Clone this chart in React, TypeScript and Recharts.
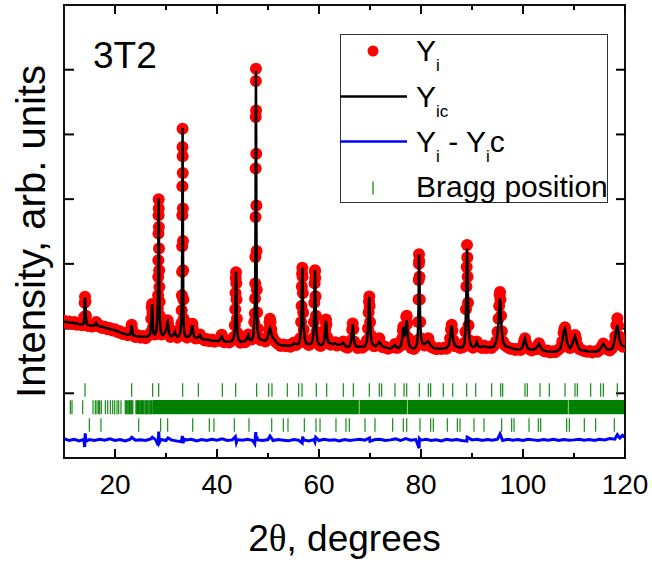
import React from 'react'
import { ComposedChart, Scatter, Line, XAxis, YAxis, ReferenceArea } from 'recharts'

const FONT = '"Liberation Sans", Arial, sans-serif'

// [2θ, Yi (observed), Yic (calculated)]
const observed: [number, number, number][] = [
  [10.0, 2120, 2104], [10.5, 2085, 2100], [11.0, 2110, 2095], [11.5, 2075, 2090], [12.0, 2100, 2085],
  [12.5, 2060, 2078], [13.0, 2085, 2068], [13.5, 2050, 2064], [13.8, 2080, 2070], [13.95, 2180, 2150],
  [14.05, 2400, 2380], [14.12, 2490, 2480], [14.2, 2420, 2400], [14.3, 2200, 2180], [14.45, 2070, 2075],
  [14.7, 2040, 2058], [15.0, 2065, 2050], [15.5, 2030, 2045], [16.0, 2055, 2050], [16.3, 2100, 2088],
  [16.6, 2035, 2045], [17.0, 2050, 2035], [17.5, 2010, 2028], [18.0, 2030, 2015], [18.5, 1990, 2005],
  [19.0, 2010, 1993], [19.5, 1970, 1982], [20.0, 1990, 1972], [20.5, 1945, 1958], [21.0, 1960, 1942],
  [21.5, 1915, 1927], [22.0, 1930, 1915], [22.5, 1895, 1905], [23.0, 1925, 1910], [23.2, 2010, 2000],
  [23.27, 2060, 2053], [23.35, 1990, 1990], [23.6, 1895, 1895], [24.0, 1870, 1887], [24.5, 1895, 1880],
  [25.0, 1860, 1877], [25.5, 1885, 1874], [26.0, 1850, 1872], [26.5, 1890, 1880], [26.9, 1930, 1920],
  [27.1, 2150, 2120], [27.2, 2330, 2300], [27.27, 2380, 2377], [27.35, 2250, 2230], [27.45, 2020, 2000],
  [27.6, 1930, 1920], [27.85, 1910, 1909], [28.1, 1990, 1960], [28.3, 2180, 2150], [28.4, 2311, 2400],
  [28.45, 2516, 2640], [28.48, 2798, 2900], [28.5, 3056, 3200], [28.52, 3468, 3500], [28.54, 3751, 3800],
  [28.56, 3998, 4010], [28.58, 3854, 3900], [28.6, 3570, 3600], [28.63, 3237, 3250], [28.66, 2902, 2900],
  [28.7, 2644, 2600], [28.75, 2413, 2350], [28.8, 2200, 2150], [28.9, 2020, 2000], [29.1, 1910, 1920],
  [29.4, 1920, 1900], [29.8, 1950, 1940], [30.1, 2020, 2010], [30.25, 2110, 2090], [30.33, 2130, 2104],
  [30.42, 2060, 2050], [30.6, 1950, 1930], [30.9, 1870, 1885], [31.2, 1895, 1883], [31.6, 1930, 1920],
  [31.76, 1960, 1949], [31.9, 1900, 1910], [32.2, 1860, 1872], [32.5, 1890, 1880], [32.8, 1930, 1940],
  [33.0, 2079, 2100], [33.08, 2284, 2300], [33.12, 2516, 2550], [33.15, 2876, 2900], [33.17, 3272, 3300],
  [33.19, 3751, 3700], [33.21, 4199, 4200], [33.23, 4805, 4750], [33.25, 5089, 5100], [33.27, 4662, 4700],
  [33.29, 4404, 4300], [33.31, 3855, 3800], [33.33, 3354, 3350], [33.36, 2900, 2850], [33.4, 2450, 2400],
  [33.46, 2150, 2120], [33.55, 1980, 1960], [33.8, 1890, 1880], [34.1, 1860, 1872], [34.5, 1890, 1880],
  [34.8, 1920, 1910], [35.0, 1990, 1990], [35.1, 2070, 2040], [35.17, 2075, 2053], [35.25, 2000, 1990],
  [35.5, 1880, 1880], [35.8, 1845, 1860], [36.1, 1870, 1857], [36.5, 1900, 1880], [36.67, 1910, 1898],
  [36.85, 1850, 1860], [37.2, 1845, 1835], [37.6, 1815, 1832], [38.0, 1840, 1828], [38.5, 1805, 1822],
  [39.0, 1830, 1815], [39.5, 1795, 1810], [40.0, 1820, 1808], [40.5, 1810, 1815], [40.8, 1870, 1860],
  [40.92, 1905, 1898], [41.05, 1850, 1850], [41.4, 1790, 1805], [41.9, 1815, 1798], [42.4, 1785, 1795],
  [42.9, 1820, 1805], [43.3, 1870, 1860], [43.5, 2050, 2000], [43.58, 2300, 2250], [43.63, 2550, 2500],
  [43.68, 2780, 2750], [43.73, 2870, 2876], [43.78, 2700, 2720], [43.83, 2450, 2450], [43.9, 2150, 2150],
  [44.0, 1930, 1950], [44.2, 1830, 1840], [44.6, 1780, 1795], [45.0, 1810, 1798], [45.5, 1790, 1805],
  [45.9, 1840, 1850], [46.14, 1910, 1898], [46.35, 1840, 1835], [46.8, 1830, 1821], [47.1, 1900, 1880],
  [47.3, 2100, 2080], [47.42, 2233, 2350], [47.47, 2465, 2600], [47.5, 2697, 2900], [47.53, 3107, 3300],
  [47.56, 3725, 3900], [47.58, 4472, 4500], [47.6, 5268, 5200], [47.62, 5824, 5700], [47.64, 6015, 5980],
  [47.66, 5371, 5500], [47.69, 4700, 4600], [47.72, 3900, 3800], [47.76, 3200, 3100], [47.8, 2600, 2500],
  [47.86, 2250, 2200], [47.95, 2000, 1990], [48.2, 1870, 1860], [48.6, 1820, 1830], [49.0, 1835, 1821],
  [49.5, 1800, 1812], [49.9, 1850, 1850], [50.15, 1990, 1950], [50.3, 2100, 1990], [50.39, 2150, 2007],
  [50.5, 2100, 1980], [50.65, 1990, 1930], [50.85, 1880, 1870], [51.1, 1835, 1848], [51.6, 1790, 1790],
  [52.0, 1760, 1760], [52.5, 1730, 1744], [53.0, 1755, 1740], [53.5, 1725, 1740], [54.0, 1745, 1735],
  [54.4, 1720, 1733], [54.8, 1760, 1750], [55.1, 1785, 1770], [55.5, 1745, 1760], [56.0, 1775, 1760],
  [56.3, 1850, 1840], [56.5, 2100, 2050], [56.58, 2350, 2300], [56.64, 2650, 2600], [56.69, 2850, 2850],
  [56.73, 2940, 2943], [56.78, 2800, 2800], [56.83, 2550, 2550], [56.9, 2250, 2250], [57.0, 1980, 2000],
  [57.2, 1830, 1840], [57.5, 1775, 1770], [58.0, 1745, 1760], [58.5, 1775, 1765], [58.8, 1850, 1830],
  [59.0, 2100, 2050], [59.08, 2400, 2350], [59.14, 2700, 2650], [59.19, 2880, 2860], [59.22, 2900, 2902],
  [59.27, 2780, 2780], [59.32, 2500, 2520], [59.4, 2200, 2200], [59.5, 1950, 1970], [59.7, 1800, 1810],
  [60.0, 1750, 1755], [60.3, 1730, 1744], [60.7, 1760, 1755], [61.0, 1820, 1800], [61.2, 1980, 1960],
  [61.3, 2110, 2090], [61.37, 2140, 2119], [61.45, 2060, 2040], [61.6, 1870, 1870], [61.9, 1775, 1780],
  [62.3, 1750, 1770], [62.7, 1775, 1760], [63.14, 1790, 1775], [63.5, 1740, 1755], [64.0, 1760, 1750],
  [64.4, 1755, 1760], [64.76, 1800, 1780], [65.1, 1720, 1735], [65.6, 1705, 1718], [66.0, 1740, 1730],
  [66.3, 1820, 1810], [66.5, 1980, 1980], [66.61, 2080, 2068], [66.72, 1990, 1980], [66.9, 1800, 1800],
  [67.2, 1730, 1730], [67.6, 1700, 1718], [68.0, 1730, 1720], [68.5, 1705, 1720], [69.0, 1735, 1725],
  [69.4, 1820, 1800], [69.6, 2000, 1990], [69.72, 2250, 2250], [69.8, 2420, 2420], [69.86, 2495, 2490],
  [69.93, 2350, 2350], [70.02, 2100, 2100], [70.15, 1900, 1900], [70.4, 1770, 1770], [70.8, 1725, 1735],
  [71.1, 1740, 1729], [71.5, 1760, 1760], [71.82, 1850, 1790], [72.1, 1760, 1760], [72.5, 1710, 1725],
  [73.0, 1720, 1710], [73.5, 1690, 1700], [74.0, 1705, 1693], [74.5, 1720, 1715], [74.9, 1760, 1744],
  [75.3, 1700, 1710], [75.7, 1720, 1700], [76.0, 1740, 1730], [76.3, 1850, 1830], [76.45, 1970, 1980],
  [76.53, 2030, 2027], [76.65, 1950, 1940], [76.8, 1920, 1880], [77.0, 2050, 1980], [77.12, 2180, 2100],
  [77.2, 2200, 2130], [77.3, 2080, 2030], [77.45, 1860, 1860], [77.7, 1740, 1740], [78.1, 1700, 1705],
  [78.6, 1685, 1693], [79.0, 1720, 1715], [79.3, 1820, 1800], [79.45, 2100, 2050], [79.52, 2450, 2400],
  [79.56, 2750, 2700], [79.59, 3000, 2950], [79.61, 3150, 3149], [79.65, 3050, 3050], [79.7, 2800, 2800],
  [79.76, 2450, 2450], [79.85, 2100, 2100], [80.0, 1850, 1870], [80.3, 1760, 1770], [80.7, 1740, 1760],
  [81.1, 1800, 1790], [81.43, 1850, 1800], [81.75, 1760, 1760], [82.1, 1710, 1720], [82.5, 1700, 1700],
  [83.0, 1680, 1695], [83.5, 1700, 1693], [84.0, 1685, 1693], [84.5, 1705, 1695], [85.0, 1690, 1700],
  [85.4, 1730, 1740], [85.7, 1850, 1850], [85.88, 1990, 1990], [86.02, 2060, 2053], [86.15, 1970, 1960],
  [86.35, 1820, 1810], [86.7, 1725, 1735], [87.2, 1730, 1718], [87.7, 1700, 1705], [88.2, 1710, 1712],
  [88.5, 1780, 1760], [88.7, 1950, 1950], [88.82, 2300, 2300], [88.9, 2650, 2650], [88.96, 2950, 2950],
  [89.02, 3290, 3237], [89.08, 3100, 3100], [89.14, 2800, 2800], [89.22, 2400, 2400], [89.32, 2050, 2050],
  [89.5, 1820, 1830], [89.8, 1730, 1740], [90.2, 1705, 1715], [90.6, 1730, 1730], [90.92, 1800, 1795],
  [91.2, 1730, 1730], [91.6, 1725, 1715], [92.0, 1700, 1718], [92.35, 1740, 1729], [92.8, 1700, 1715],
  [93.3, 1720, 1710], [93.8, 1700, 1712], [94.3, 1735, 1720], [94.7, 1800, 1790], [95.0, 1950, 1920],
  [95.2, 2150, 2100], [95.32, 2350, 2300], [95.42, 2520, 2440], [95.49, 2567, 2465], [95.58, 2450, 2380],
  [95.7, 2200, 2150], [95.85, 1960, 1950], [96.1, 1800, 1800], [96.5, 1740, 1730], [97.0, 1710, 1718],
  [97.5, 1690, 1705], [98.0, 1690, 1690], [98.5, 1670, 1685], [99.0, 1690, 1678], [99.5, 1670, 1682],
  [99.9, 1720, 1710], [100.2, 1800, 1800], [100.39, 1850, 1848], [100.6, 1780, 1770], [100.9, 1700, 1700],
  [101.3, 1680, 1680], [101.7, 1660, 1675], [102.1, 1690, 1678], [102.5, 1680, 1690], [102.9, 1740, 1730],
  [103.14, 1775, 1760], [103.4, 1720, 1720], [103.8, 1670, 1670], [104.3, 1645, 1655], [104.8, 1660, 1645],
  [105.3, 1630, 1641], [105.8, 1650, 1641], [106.3, 1635, 1645], [106.8, 1665, 1655], [107.3, 1700, 1690],
  [107.7, 1800, 1800], [107.95, 1930, 1930], [108.1, 1990, 1980], [108.24, 2020, 2002], [108.4, 1950, 1940],
  [108.6, 1820, 1810], [108.9, 1720, 1730], [109.2, 1700, 1700], [109.5, 1720, 1730], [109.8, 1800, 1790],
  [110.0, 1860, 1850], [110.2, 1900, 1883], [110.4, 1840, 1830], [110.7, 1740, 1740], [111.1, 1680, 1680],
  [111.6, 1665, 1660], [112.1, 1650, 1656], [112.6, 1640, 1650], [113.1, 1655, 1645], [113.6, 1630, 1641],
  [114.1, 1650, 1641], [114.6, 1640, 1650], [115.0, 1670, 1670], [115.4, 1720, 1720], [115.75, 1770, 1760],
  [116.1, 1710, 1720], [116.5, 1680, 1680], [117.0, 1660, 1678], [117.5, 1700, 1690], [117.8, 1760, 1760],
  [118.1, 1880, 1880], [118.3, 2050, 1990], [118.49, 2160, 2053], [118.65, 2050, 1990], [118.85, 1880, 1860],
  [119.2, 1760, 1760], [119.6, 1720, 1730], [120.0, 1730, 1718],
]

// [2θ, Yi - Yic] as drawn (offset below the pattern)
const difference: [number, number][] = [
  [10, 300], [11, 270], [12, 290], [13, 265], [13.9, 290], [14.05, 170], [14.15, 380], [14.3, 260],
  [15, 285], [16, 270], [17, 290], [18, 275], [19, 295], [20, 270], [21, 285], [22, 265], [23, 290],
  [23.3, 320], [24, 275], [25, 280], [26, 270], [27, 295], [27.3, 320], [28, 280], [28.45, 200],
  [28.57, 410], [28.7, 240], [29, 285], [30, 270], [30.4, 310], [31, 280], [32, 265], [33, 250],
  [33.2, 340], [33.35, 230], [33.6, 290], [34, 280], [35, 290], [36, 265], [37, 285], [38, 270],
  [39, 290], [40, 275], [41, 295], [42, 270], [43, 280], [43.6, 330], [43.8, 240], [44, 285], [45, 275],
  [46, 290], [47, 270], [47.4, 220], [47.6, 400], [47.7, 260], [47.8, 330], [48, 280], [49, 270],
  [50, 285], [50.4, 340], [51, 270], [52, 285], [53, 275], [54, 265], [55, 285], [56, 275], [56.7, 230],
  [56.8, 330], [57, 280], [58, 265], [59, 285], [59.2, 250], [59.35, 320], [60, 270], [61, 290],
  [62, 275], [63, 280], [64, 265], [65, 285], [66, 270], [67, 280], [68, 290], [69, 275], [69.9, 310],
  [70, 260], [71, 285], [72, 290], [73, 270], [74, 280], [75, 295], [76, 270], [77, 300], [78, 275],
  [79, 285], [79.62, 150], [79.7, 300], [80, 275], [81, 290], [82, 270], [83, 280], [84, 265], [85, 290],
  [86, 275], [87, 285], [88, 270], [89, 260], [89.05, 320], [90, 280], [91, 290], [92, 270], [93, 285],
  [94, 275], [95, 290], [95.5, 370], [96, 270], [97, 290], [98, 275], [99, 285], [100, 270], [101, 290],
  [102, 280], [103, 270], [104, 285], [105, 275], [106, 290], [107, 270], [108, 285], [109, 275],
  [110, 280], [111, 290], [112, 275], [113, 285], [114, 270], [115, 290], [116, 280], [117, 300],
  [118, 290], [118.5, 360], [119, 310], [119.5, 350], [120, 320],
]

// Bragg reflection positions (2θ), three phases
const braggUpper = [
  14.12, 23.27, 27.39, 28.57, 33.27, 36.33, 41.04, 43.67, 47.78, 50.14, 50.78, 53.78, 56.02, 56.67,
  59.47, 61.51, 64.76, 66.73, 69.86, 71.82, 72.29, 74.9, 76.67, 77.2, 79.67, 81.43, 81.9, 84.37, 86.22,
  88.96, 90.73, 93.86, 95.63, 96.02, 100.39, 100.84, 103.33, 105.16, 108.24, 110.2, 110.65, 113.27,
  115.24, 115.75, 118.49,
]
const braggMiddle = [
  11.24, 11.57, 13.67, 15.69, 16.14, 16.47, 16.8, 17.0, 17.31, 18.1, 18.57, 19.08, 19.55, 19.94, 20.39,
  20.73, 21.18, 22.0, 22.15, 22.3, 22.5, 22.7, 22.85, 23.0, 23.2, 23.35, 23.5, 24.1, 24.25, 24.4, 24.6,
  24.75, 24.9, 25.05, 25.2, 25.4, 25.55, 25.7, 25.9, 26.05, 26.2, 26.35, 26.5, 26.7, 26.85, 27.0,
  27.15, 27.3,
]
// above ~27.4 the middle phase reflections merge into a solid band
const braggMiddleBand = [27.4, 120]
const braggBandGaps = [67.9, 77.35, 108.9]
const braggLower = [
  14.96, 17.25, 24.65, 28.96, 30.33, 35.24, 38.49, 39.41, 43.39, 46.27, 50.73, 53.0, 53.92, 57.12,
  59.41, 60.2, 63.33, 65.29, 65.94, 69.02, 70.98, 74.45, 76.53, 77.2, 79.8, 81.9, 82.41, 85.16, 87.12,
  87.65, 90.39, 92.35, 95.82, 97.78, 98.24, 101.18, 103.0, 103.47, 108.57, 109.08, 112.02, 114.25,
  117.9,
]

const xTicks = [20, 40, 60, 80, 100, 120]
const xMinorTicks = [30, 50, 70, 90, 110]
const yTicks = [1000, 2000, 3000, 4000, 5000, 6000]
const X_MIN = 10
const X_MAX = 120
const Y_MIN = 0
const Y_MAX = 7000

// vertical levels of the Bragg rows
const UPPER_LEVEL = 1050
const MIDDLE_LEVEL = 786
const LOWER_LEVEL = 510
const BAND_TOP = 896
const BAND_BOTTOM = 676

const obsRows = observed.map(([t, obs, calc]) => ({ t, obs, calc }))
const diffRows = difference.map(([t, d]) => ({ t, d }))
const upperRows = braggUpper.map((t) => ({ t, y: UPPER_LEVEL }))
const middleRows = braggMiddle.map((t) => ({ t, y: MIDDLE_LEVEL }))
const lowerRows = braggLower.map((t) => ({ t, y: LOWER_LEVEL }))
const gapRows = braggBandGaps.map((t) => ({ t, y: MIDDLE_LEVEL }))
// anchor points for the inward tick marks on the bottom / top frame
const bottomMajor = xTicks.map((t) => ({ t, y: Y_MIN }))
const bottomMinor = xMinorTicks.map((t) => ({ t, y: Y_MIN }))
const topMajor = xTicks.map((t) => ({ t, y: Y_MAX }))
const topMinor = xMinorTicks.map((t) => ({ t, y: Y_MAX }))

const RedDot = (p: any) => <circle cx={p.cx} cy={p.cy} r={6} fill="#ff0000" />
const tickMark = (color: string, half: number) => (p: any) =>
  <line x1={p.cx} x2={p.cx} y1={p.cy - half} y2={p.cy + half} stroke={color} strokeWidth={1.1} />
// frame tick: from the anchor, `len` px into the plot (negative = upward)
const frameTick = (len: number) => (p: any) =>
  <line x1={p.cx} x2={p.cx} y1={p.cy} y2={p.cy + len} stroke="#000" strokeWidth={2} />
const NoLabel = () => <g />

const XTitle = (props: any) => {
  const vb = props.viewBox
  return (
    <text x={vb.x + vb.width / 2} y={vb.y + 93} textAnchor="middle" fontSize={37} fontFamily={FONT} fill="#000">
      2<tspan fontFamily='"Liberation Serif", serif'>θ</tspan>, degrees
    </text>
  )
}

const YTitle = (props: any) => {
  const vb = props.viewBox
  const x = vb.x + 45
  const y = vb.y + vb.height / 2
  return (
    <text x={x} y={y} transform={`rotate(-90, ${x}, ${y})`} textAnchor="middle" fontSize={40} fontFamily={FONT} fill="#000">
      Intensity, arb. units
    </text>
  )
}

const frame = { stroke: '#111', strokeWidth: 2 }
const tickStroke = { stroke: '#000', strokeWidth: 2 }

const LegendBox = () => (
  <svg width={652} height={563} style={{ position: 'absolute', left: 0, top: 0, pointerEvents: 'none' }}>
    <text x={93} y={68} fontSize={37} fontFamily={FONT} fill="#000">3T2</text>
    <rect x={340.5} y={34.5} width={267} height={168} fill="#fff" stroke="#333" strokeWidth={1} />
    <circle cx={373} cy={51} r={5.5} fill="#ff0000" />
    <text x={416} y={61} fontSize={30} fontFamily={FONT} fill="#000">
      Y<tspan fontSize={17} dy={10}>i</tspan>
    </text>
    <line x1={340} x2={407} y1={96.5} y2={96.5} stroke="#000" strokeWidth={2.5} />
    <text x={416} y={107} fontSize={30} fontFamily={FONT} fill="#000">
      Y<tspan fontSize={17} dy={10}>ic</tspan>
    </text>
    <line x1={340} x2={407} y1={141.5} y2={141.5} stroke="#0000ff" strokeWidth={2.5} />
    <text x={416} y={152} fontSize={30} fontFamily={FONT} fill="#000">
      Y<tspan fontSize={17} dy={10}>i</tspan>
      <tspan dy={-10}> - Y</tspan>
      <tspan fontSize={17} dy={10}>i</tspan>
      <tspan dy={-10}>c</tspan>
    </text>
    <line x1={373} x2={373} y1={181.5} y2={194.5} stroke="#008000" strokeWidth={1.2} />
    <text x={416} y={197} fontSize={30} fontFamily={FONT} fill="#000">Bragg position</text>
  </svg>
)

export default function App() {
  return (
    <div style={{ position: 'relative', width: 652, height: 563, background: '#fff' }}>
      <style>{'body{margin:0}'}</style>
      <ComposedChart width={652} height={563} margin={{ top: 5, right: 27, left: 0, bottom: 0 }}>
        <XAxis
          xAxisId="x"
          dataKey="t"
          type="number"
          domain={[X_MIN, X_MAX]}
          ticks={xTicks}
          interval={0}
          allowDataOverflow
          height={105}
          axisLine={frame}
          tickLine={false}
          tickSize={8}
          tickMargin={8}
          tick={{ fontSize: 28, fill: '#000', fontFamily: FONT }}
          label={XTitle}
        />
        <XAxis xAxisId="xTop" orientation="top" type="number" domain={[X_MIN, X_MAX]} ticks={xTicks} allowDataOverflow mirror
          axisLine={frame} tick={NoLabel} tickLine={false} />
        <YAxis
          yAxisId="y"
          type="number"
          domain={[Y_MIN, Y_MAX]}
          ticks={yTicks}
          allowDataOverflow
          width={64}
          axisLine={frame}
          tickLine={false}
          tick={false}
          label={YTitle}
        />
        <YAxis yAxisId="yIn" type="number" domain={[Y_MIN, Y_MAX]} ticks={yTicks} allowDataOverflow mirror
          axisLine={false} tick={NoLabel} tickLine={tickStroke} tickSize={10} />
        <YAxis yAxisId="yRight" orientation="right" type="number" domain={[Y_MIN, Y_MAX]} ticks={yTicks} allowDataOverflow mirror
          axisLine={frame} tick={NoLabel} tickLine={tickStroke} tickSize={9} />

        {/* plot frame */}
        <ReferenceArea xAxisId="x" yAxisId="y" x1={X_MIN} x2={X_MAX} y1={Y_MIN} y2={Y_MAX}
          fill="none" stroke="#111" strokeWidth={2} />

        {/* inward ticks on the bottom and top frame */}
        <Scatter xAxisId="x" yAxisId="y" data={bottomMajor} dataKey="y" shape={frameTick(-9)} isAnimationActive={false} />
        <Scatter xAxisId="x" yAxisId="y" data={bottomMinor} dataKey="y" shape={frameTick(-5)} isAnimationActive={false} />
        <Scatter xAxisId="x" yAxisId="y" data={topMajor} dataKey="y" shape={frameTick(9)} isAnimationActive={false} />
        <Scatter xAxisId="x" yAxisId="y" data={topMinor} dataKey="y" shape={frameTick(5)} isAnimationActive={false} />

        <ReferenceArea xAxisId="x" yAxisId="y" x1={braggMiddleBand[0]} x2={braggMiddleBand[1]} y1={BAND_BOTTOM} y2={BAND_TOP}
          fill="#008000" fillOpacity={1} stroke="none" />
        <Scatter xAxisId="x" yAxisId="y" data={gapRows} dataKey="y" shape={tickMark('#8fc98f', 7)} isAnimationActive={false} />
        <Scatter xAxisId="x" yAxisId="y" data={upperRows} dataKey="y" shape={tickMark('#008000', 6.7)} isAnimationActive={false} />
        <Scatter xAxisId="x" yAxisId="y" data={middleRows} dataKey="y" shape={tickMark('#008000', 7)} isAnimationActive={false} />
        <Scatter xAxisId="x" yAxisId="y" data={lowerRows} dataKey="y" shape={tickMark('#008000', 6.7)} isAnimationActive={false} />
        <Line xAxisId="x" yAxisId="y" data={diffRows} dataKey="d" type="linear" stroke="#0000ff" strokeWidth={3}
          dot={false} activeDot={false} isAnimationActive={false} />
        <Scatter xAxisId="x" yAxisId="y" data={obsRows} dataKey="obs" shape={RedDot} isAnimationActive={false} />
        <Line xAxisId="x" yAxisId="y" data={obsRows} dataKey="calc" type="linear" stroke="#000" strokeWidth={2.5}
          dot={false} activeDot={false} isAnimationActive={false} zIndex={700} />
      </ComposedChart>
      <LegendBox />
    </div>
  )
}
